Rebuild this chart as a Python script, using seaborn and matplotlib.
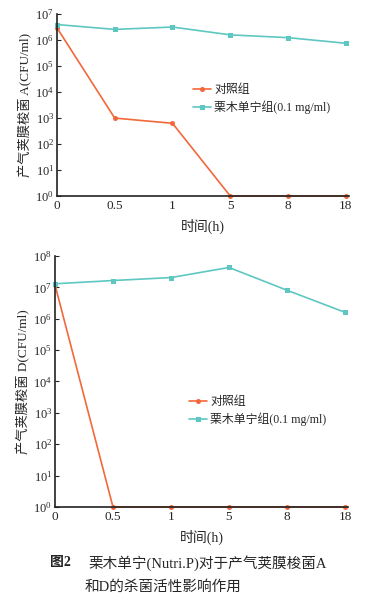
import matplotlib
matplotlib.use("Agg")
import matplotlib.pyplot as plt
import seaborn as sns
import numpy as np
import pandas as pd

sns.set_theme(style="white")
plt.rcParams['font.family'] = ['Liberation Serif', 'Noto Sans CJK SC']
plt.rcParams['mathtext.fontset'] = 'stix'

times = ["0", "0.5", "1", "5", "8", "18"]
series_names = ["对照组", "栗木单宁组(0.1 mg/ml)"]
control_A = [3.0e6, 1.0e3, 6.3e2, 1, 1, 1]
tannin_A = [4.0e6, 2.6e6, 3.2e6, 1.6e6, 1.25e6, 7.6e5]
control_D = [1.2e7, 1, 1, 1, 1, 1]
tannin_D = [1.3e7, 1.65e7, 2.05e7, 4.3e7, 8.1e6, 1.6e6]
ylabels = ["产气荚膜梭菌 A(CFU/ml)", "产气荚膜梭菌 D(CFU/ml)"]
colors = ["#F2683A", "#5EC7C2"]

fig = plt.figure(figsize=(3.9, 6.04), dpi=100)
ax1 = fig.add_axes([0.146, 0.6755, 0.748, 0.301])
ax2 = fig.add_axes([0.141, 0.1606, 0.751, 0.4156])

def draw(ax, ctrl, tan, ylabel, ymax, legend_anchor):
    pos = np.arange(len(times))
    df = pd.DataFrame({
        "x": np.concatenate([pos, pos]),
        "y": ctrl + tan,
        "g": [series_names[0]] * len(times) + [series_names[1]] * len(times),
    })
    sns.lineplot(data=df, x="x", y="y", hue="g", style="g",
                 palette=colors, markers=["o", "s"], dashes=False,
                 markersize=3.6, markeredgewidth=0, linewidth=1.2, ax=ax)
    ax.set_yscale("log")
    ax.set_ylim(1, ymax)
    ax.set_xlim(0, 5.05)
    ax.set_xticks(pos)
    ax.set_xticklabels(times)
    ax.yaxis.set_major_locator(matplotlib.ticker.LogLocator(base=10, numticks=20))
    ax.yaxis.set_minor_locator(matplotlib.ticker.NullLocator())
    ax.yaxis.set_major_formatter(matplotlib.ticker.LogFormatterSciNotation())
    ax.tick_params(axis="y", direction="in", length=3, width=0.8, labelsize=9, pad=2, left=True)
    ax.tick_params(axis="x", length=0, labelsize=9.5, pad=3)
    for s in ["top", "right"]:
        ax.spines[s].set_visible(False)
    for s in ["left", "bottom"]:
        ax.spines[s].set_color("#222222")
        ax.spines[s].set_linewidth(1.2)
    ax.set_xlabel("时间(h)", fontsize=10, labelpad=5)
    ax.set_ylabel(ylabel, fontsize=9.5, labelpad=2)
    ax.grid(False)
    ax.legend(loc="upper left", bbox_to_anchor=legend_anchor, frameon=False,
              fontsize=8.6, handlelength=1.5, handletextpad=0.3,
              labelspacing=0.35, borderaxespad=0)
    for line in ax.get_lines():
        line.set_clip_on(False)

draw(ax1, control_A, tannin_A, ylabels[0], 1e7, (0.45, 0.64))
draw(ax2, control_D, tannin_D, ylabels[1], 1e8, (0.44, 0.46))

fig.text(50 / 390, 0.068, "图2", fontsize=10, fontweight="bold", ha="left", va="center")
fig.text(88 / 390, 0.068, "栗木单宁(Nutri.P)对于产气荚膜梭菌A", fontsize=10.5, ha="left", va="center")
fig.text(85 / 390, 0.028, "和D的杀菌活性影响作用", fontsize=10.5, ha="left", va="center")

fig.savefig("out.png", dpi=100)
